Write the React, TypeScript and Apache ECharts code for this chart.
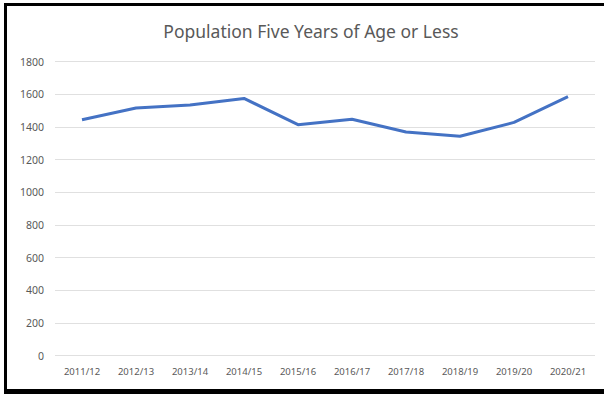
import React, { useEffect, useRef } from "react";
import * as echarts from "echarts";

const categories = ["2011/12", "2012/13", "2013/14", "2014/15", "2015/16", "2016/17", "2017/18", "2018/19", "2019/20", "2020/21"];
const population = [1444, 1516, 1535, 1575, 1414, 1447, 1369, 1343, 1428, 1586];
const titleText = "Population Five Years of Age or Less";

export default function App() {
  const ref = useRef<HTMLDivElement>(null);
  useEffect(() => {
    if (!ref.current) return;
    const chart = echarts.init(ref.current, null, { renderer: "svg" });
    chart.setOption({
      animation: false,
      backgroundColor: "#ffffff",
      title: {
        text: titleText,
        left: 306,
        top: 17,
        textAlign: "center",
        textStyle: { fontFamily: "Noto Sans", fontSize: 17.5, fontWeight: "normal", color: "#595959" },
      },
      grid: { left: 55, right: 9, top: 61.7, bottom: 38.5, containLabel: false },
      xAxis: {
        type: "category",
        data: categories,
        boundaryGap: true,
        axisLine: { show: false },
        axisTick: { show: false },
        axisLabel: { fontFamily: "Noto Sans", fontSize: 9.5, color: "#595959", margin: 11 },
      },
      yAxis: {
        type: "value",
        min: 0,
        max: 1800,
        interval: 200,
        axisLine: { show: false },
        axisTick: { show: false },
        axisLabel: {
          fontFamily: "Noto Sans",
          fontSize: 10.5,
          color: "#595959",
          margin: 11,
          formatter: (v: number) => String(v),
        },
        splitLine: { lineStyle: { color: "#e0e0e0", width: 1 } },
      },
      series: [
        {
          type: "line",
          data: population,
          symbol: "none",
          lineStyle: { color: "#4472C4", width: 3 },
        },
      ],
    });
    return () => chart.dispose();
  }, []);
  return (
    <div style={{ position: "absolute", left: 0, top: 0, width: 604, height: 394, background: "#fff" }}>
      <div ref={ref} style={{ position: "absolute", left: 0, top: 0, width: 604, height: 394 }} />
      <div
        style={{
          position: "absolute",
          left: 4,
          top: 3,
          width: 600,
          height: 391,
          borderLeft: "3px solid #000",
          borderTop: "3px solid #000",
          borderBottom: "5px solid #000",
          boxSizing: "border-box",
          pointerEvents: "none",
        }}
      />
    </div>
  );
}
